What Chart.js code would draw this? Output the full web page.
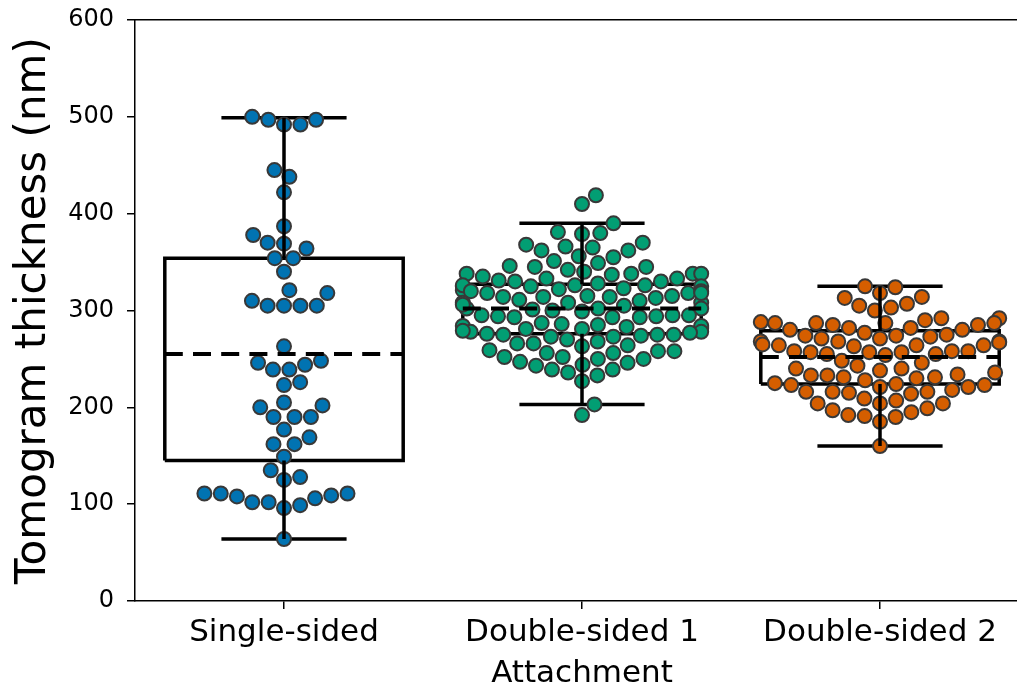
<!DOCTYPE html>
<html>
<head>
<meta charset="utf-8">
<script src="https://cdn.jsdelivr.net/npm/chart.js@4/dist/chart.umd.min.js"></script>
<style>
  html, body { margin: 0; padding: 0; background: #fff; overflow: hidden; }
  #wrap { width: 1040px; height: 689px; }
</style>
</head>
<body>
<div id="wrap"><canvas id="c" width="1040" height="689"></canvas></div>
<script>
// ---------------- data ----------------
const categories = ['Single-sided', 'Double-sided 1', 'Double-sided 2'];

const singleSided = [497, 492, 492, 497, 500, 445, 438, 422, 387, 378, 364, 369, 370, 354, 354,
  340, 321, 318, 305, 305, 305, 305, 310, 263, 248, 244, 239, 239, 246, 226, 223, 202, 205, 200,
  190, 190, 190, 177, 169, 162, 162, 149, 135, 125, 128, 111, 109, 106, 99, 96, 102, 102, 108,
  111, 111, 64];

const doubleSided1 = [419, 410, 390, 380, 379, 381,
  368, 362, 362, 355, 365, 356, 366, 370,
  351, 349, 342, 346, 345, 340, 345,
  338, 333, 337, 335, 333, 338, 338, 338,
  330, 326, 330, 325, 326, 325, 321, 326, 331, 323, 325,
  314, 318, 322, 314, 320, 318, 313, 310, 315, 315, 314,
  305, 308, 299, 308, 311, 308, 300, 302, 302,
  295, 295, 293, 293, 302, 294, 301, 293, 294, 295,
  284, 282, 286, 284, 281, 287, 285,
  278, 274, 275, 273, 275, 278, 277, 275, 270, 268, 273, 264, 266,
  266, 258, 263, 258, 252, 256, 252, 256, 259, 247, 250,
  250, 244, 239, 233, 246, 236, 239, 243,
  227, 203, 192,
  328, 320, 281, 276, 318, 306, 283, 279];

const doubleSided2 = [324, 325, 314, 318, 313, 305, 300, 303, 307,
  287, 282, 280, 292, 288, 287, 285, 290, 280, 285, 287, 292, 277, 282, 287,
  268, 268, 264, 275, 273, 271, 265, 274, 264, 268, 271, 274, 258, 263, 264, 267,
  258, 257, 258, 254, 248, 257, 246, 255, 255, 257,
  243, 236, 231, 231, 230, 238, 228, 233, 234, 240, 240, 233,
  225, 224, 218, 216, 214, 215, 221, 216, 216, 221, 223, 223,
  204, 199, 195, 190, 204, 185, 209, 191, 192, 197, 204, 207,
  160];

const boxQ1 = [145, 276, 224];
const boxQ3 = [354, 327, 279];
const whiskerLow = [64, 203, 160];
const whiskerHigh = [499, 390, 325];
const means = [255, 302, 252];

const yTicks = [0, 100, 200, 300, 400, 500, 600];

// ---------------- styles ----------------
const seriesColors = ['#0173b2', '#029e73', '#d55e00'];
const BOX_HALF = 0.4;
const CAP_HALF = 0.21;
const POINT_R = 7;
const POINT_BORDER = 2;

const groups = [singleSided, doubleSided1, doubleSided2];

// ---------------- build line datasets from stats ----------------
const GAP = {x: null, y: null};
const boxPath = [];
const whiskerPath = [];
const meanPath = [];
categories.forEach((c, i) => {
  boxPath.push({x: i - BOX_HALF, y: boxQ1[i]}, {x: i - BOX_HALF, y: boxQ3[i]},
               {x: i + BOX_HALF, y: boxQ3[i]}, {x: i + BOX_HALF, y: boxQ1[i]},
               {x: i - BOX_HALF, y: boxQ1[i]}, GAP);
  boxPath.push({x: i - CAP_HALF, y: whiskerHigh[i]}, {x: i + CAP_HALF, y: whiskerHigh[i]}, GAP);
  boxPath.push({x: i - CAP_HALF, y: whiskerLow[i]}, {x: i + CAP_HALF, y: whiskerLow[i]}, GAP);
  whiskerPath.push({x: i, y: boxQ3[i]}, {x: i, y: whiskerHigh[i]}, GAP);
  whiskerPath.push({x: i, y: boxQ1[i]}, {x: i, y: whiskerLow[i]}, GAP);
  meanPath.push({x: i - BOX_HALF, y: means[i]}, {x: i + BOX_HALF, y: means[i]}, GAP);
});

const pointDatasets = groups.map((vals, gi) => ({
  type: 'scatter',
  label: categories[gi],
  data: vals.map(v => ({x: gi, y: v})),
  pointRadius: POINT_R,
  pointHoverRadius: POINT_R,
  pointBackgroundColor: seriesColors[gi],
  pointBorderColor: '#383838',
  pointBorderWidth: POINT_BORDER,
  pointHoverBorderWidth: POINT_BORDER,
  order: 2
}));

const lineCommon = {
  type: 'line', pointRadius: 0, pointHoverRadius: 0, fill: false, tension: 0,
  spanGaps: false, borderColor: '#000', borderCapStyle: 'butt', borderJoinStyle: 'miter'
};

const datasets = [
  ...pointDatasets,
  Object.assign({}, lineCommon, {label: 'box', data: boxPath, borderWidth: 3.5, order: 3}),
  Object.assign({}, lineCommon, {label: 'whisker', data: whiskerPath, borderWidth: 3.5, order: 1}),
  Object.assign({}, lineCommon, {label: 'mean', data: meanPath, borderWidth: 4, borderDash: [18, 10.2], order: 1})
];

const FONT = "'DejaVu Sans', sans-serif";

const chart = new Chart(document.getElementById('c'), {
  type: 'scatter',
  data: {datasets},
  options: {
    responsive: false,
    animation: false,
    devicePixelRatio: 1,
    layout: {padding: {top: 20, right: 11, left: 0, bottom: 0}},
    plugins: {legend: {display: false}, tooltip: {enabled: false}},
    events: [],
    scales: {
      x: {
        type: 'linear', position: 'bottom', min: -0.5, max: 2.5,
        afterBuildTicks: s => { s.ticks = categories.map((c, i) => ({value: i})); },
        afterFit: s => { s.height = 88; s.paddingLeft = 0; s.paddingRight = 0; },
        ticks: {
          callback: v => categories[v],
          font: {family: FONT, size: 31}, color: '#000', padding: 5, maxRotation: 0, autoSkip: false
        },
        grid: {display: true, drawOnChartArea: false, drawTicks: true, tickLength: 8, tickWidth: 1.5, color: '#000', lineWidth: 1.5},
        border: {display: true, color: '#000', width: 1.5},
        title: {display: true, text: 'Attachment', font: {family: FONT, size: 31, lineHeight: 1}, color: '#000', padding: {top: 0, bottom: 0}}
      },
      xTop: {
        type: 'linear', position: 'top', min: -0.5, max: 2.5,
        afterFit: s => { s.height = 0; s.paddingLeft = 0; s.paddingRight = 0; },
        ticks: {display: false},
        grid: {display: false},
        border: {display: true, color: '#000', width: 1.5}
      },
      y: {
        type: 'linear', position: 'left', min: 0, max: 600,
        afterBuildTicks: s => { s.ticks = yTicks.map(v => ({value: v})); },
        afterFit: s => { s.width = 135; s.paddingTop = 0; s.paddingBottom = 0; },
        ticks: {font: {family: FONT, size: 24}, color: '#000', padding: 13},
        grid: {display: true, drawOnChartArea: false, drawTicks: true, tickLength: 8, tickWidth: 1.5, color: '#000', lineWidth: 1.5},
        border: {display: true, color: '#000', width: 1.5},
        title: {display: true, text: 'Tomogram thickness (nm)', font: {family: FONT, size: 42}, color: '#000', padding: {top: 9, bottom: 0}}
      }
    }
  }
});

// ---------------- beeswarm layout (computed from values via the chart's scales) ----------------
function swarmOffsets(values, pxPerY, d) {
  const order = values.map((v, i) => i).sort((a, b) => values[a] - values[b]);
  const placed = [];
  const out = new Array(values.length);
  for (const i of order) {
    const y = values[i] * pxPerY;
    const nb = placed.filter(p => Math.abs(p.y - y) < d);
    const cands = [0];
    nb.forEach(p => {
      const dx = Math.sqrt(d * d - (p.y - y) * (p.y - y));
      cands.push(p.x + dx, p.x - dx);
    });
    cands.sort((a, b) => Math.abs(a) - Math.abs(b));
    let chosen = cands[cands.length - 1];
    for (const c of cands) {
      if (nb.every(p => (p.x - c) * (p.x - c) + (p.y - y) * (p.y - y) >= d * d - 1e-6)) { chosen = c; break; }
    }
    placed.push({x: chosen, y});
    out[i] = chosen;
  }
  return out;
}

(function applySwarm() {
  const xs = chart.scales.x, ys = chart.scales.y;
  const pxPerX = xs.getPixelForValue(1) - xs.getPixelForValue(0);
  const pxPerY = ys.getPixelForValue(0) - ys.getPixelForValue(1);
  const d = 2 * POINT_R + POINT_BORDER + 0.4;
  groups.forEach((vals, gi) => {
    const offs = swarmOffsets(vals, pxPerY, d);
    chart.data.datasets[gi].data = vals.map((v, k) => {
      let off = offs[k] / pxPerX;
      off = Math.max(-BOX_HALF, Math.min(BOX_HALF, off));
      return {x: gi + off, y: v};
    });
  });
  chart.update('none');
})();
</script>
</body>
</html>
